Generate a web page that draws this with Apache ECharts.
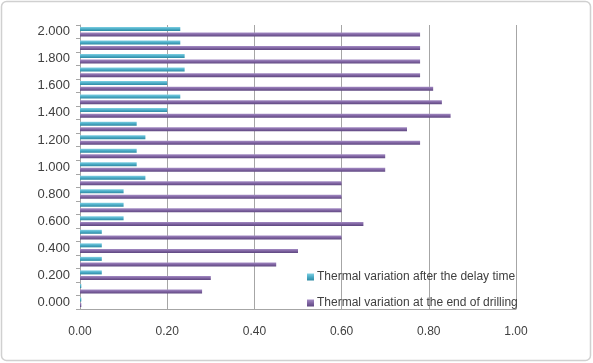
<!DOCTYPE html>
<html>
<head>
<meta charset="utf-8">
<script src="https://cdn.jsdelivr.net/npm/echarts@6/dist/echarts.min.js"></script>
<style>
html,body{margin:0;padding:0;background:#fff;}
#c{width:593px;height:363px;}
</style>
</head>
<body>
<div id="c"></div>
<script>
// Categories (bottom to top)
var categories = ['0.000','0.100','0.200','0.300','0.400','0.500','0.600','0.700','0.800','0.900','1.000',
                  '1.100','1.200','1.300','1.400','1.500','1.600','1.700','1.800','1.900','2.000'];
var seriesNames = ['Thermal variation after the delay time','Thermal variation at the end of drilling'];
// Values (bottom to top, matching categories)
var delayValues    = [0.003,0.003,0.05,0.05,0.05,0.05,0.10,0.10,0.10,0.15,0.13,
                      0.13,0.15,0.13,0.20,0.23,0.20,0.24,0.24,0.23,0.23];
var drillingValues = [0.003,0.28,0.30,0.45,0.50,0.60,0.65,0.60,0.60,0.60,0.70,
                      0.70,0.78,0.75,0.85,0.83,0.81,0.78,0.78,0.78,0.78];
var xTicks = [0, 0.2, 0.4, 0.6, 0.8, 1.0];

var chart = echarts.init(document.getElementById('c'));
var font = 'Liberation Sans';
chart.setOption({
  animation: false,
  backgroundColor: '#fff',
  textStyle: {fontFamily: font},
  graphic: [{
    type: 'rect',
    shape: {x: 1.5, y: 1.5, width: 589, height: 359, r: 5},
    style: {fill: 'none', stroke: '#d0d0d0', lineWidth: 1.5},
    silent: true, z: -1
  }],
  grid: {left: 80, right: 77, top: 25, bottom: 54, containLabel: false},
  legend: {
    data: seriesNames,
    orient: 'vertical',
    left: 302, top: 266,
    itemWidth: 7, itemHeight: 7, itemGap: 14,
    icon: 'rect',
    textStyle: {fontFamily: font, fontSize: 12, color: '#404040', padding: [0,0,0,-2]}
  },
  xAxis: {
    type: 'value', min: xTicks[0], max: xTicks[xTicks.length-1], interval: 0.2,
    axisLine: {show: true, lineStyle: {color: '#a6a6a6'}},
    axisTick: {show: false},
    axisLabel: {margin: 17, fontSize: 12, color: '#404040', fontFamily: font,
      formatter: function(v){ return v.toFixed(2); }},
    splitLine: {show: true, lineStyle: {color: '#a6a6a6', width: 1}}
  },
  yAxis: {
    type: 'category', data: categories, boundaryGap: true,
    axisLine: {show: true, lineStyle: {color: '#a6a6a6'}},
    axisTick: {show: true, interval: 0, length: 4, lineStyle: {color: '#a6a6a6'}},
    axisLabel: {interval: 1, margin: 10, fontSize: 13, color: '#404040', fontFamily: font},
    splitLine: {show: false}
  },
  series: [
    {
      name: seriesNames[0], type: 'bar', data: delayValues,
      barWidth: 4, barGap: '40%',
      itemStyle: {color: new echarts.graphic.LinearGradient(0,0,0,1,[
        {offset:0,color:'#7fd0e3'},{offset:0.5,color:'#4bacc6'},{offset:1,color:'#2f8aa3'}])}
    },
    {
      name: seriesNames[1], type: 'bar', data: drillingValues,
      barWidth: 4, barGap: '40%',
      itemStyle: {color: new echarts.graphic.LinearGradient(0,0,0,1,[
        {offset:0,color:'#a48cc4'},{offset:0.5,color:'#8064a2'},{offset:1,color:'#5e4780'}])}
    }
  ]
});
</script>
</body>
</html>
